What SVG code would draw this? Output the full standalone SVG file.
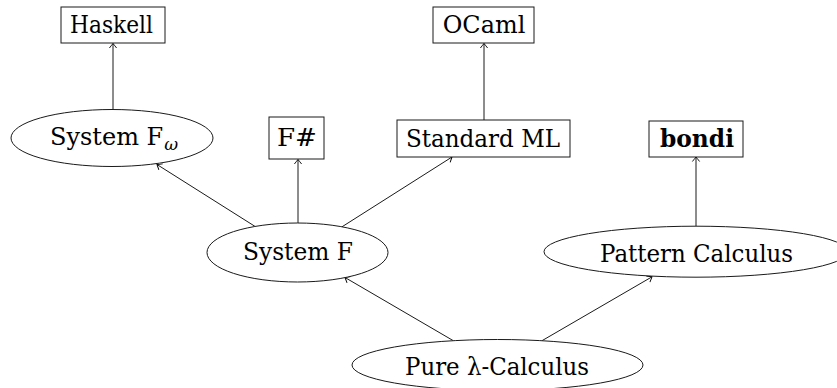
<svg xmlns="http://www.w3.org/2000/svg" width="837" height="388" viewBox="0 0 837 388">
<style>
.lbl{font-family:'DejaVu Serif','Liberation Serif',serif;font-size:24px;fill:#000}
.shape{fill:#fff;stroke:#1a1a1a;stroke-width:1}
.edge{stroke:#1a1a1a;stroke-width:1;fill:none;marker-end:url(#arr)}
</style>
<defs>
<marker id="arr" markerUnits="userSpaceOnUse" viewBox="-6 -5 8 10" refX="0" refY="0" markerWidth="8" markerHeight="10" orient="auto">
<path d="M-4.5,-3.6 Q-1.2,-1 0,0 Q-1.2,1 -4.5,3.6" fill="none" stroke="#000" stroke-width="0.9"/>
</marker>
</defs>
<rect width="837" height="388" fill="#fff"/>
<g id="connectors">
<line class="edge" x1="113" y1="109.5" x2="113" y2="43.5"/>
<line class="edge" x1="255" y1="226.4" x2="157" y2="164.5"/>
<line class="edge" x1="298" y1="223" x2="298" y2="159.5"/>
<line class="edge" x1="342" y1="226.8" x2="452" y2="157"/>
<line class="edge" x1="484" y1="120" x2="484" y2="43.5"/>
<line class="edge" x1="453" y1="340.5" x2="345" y2="277.5"/>
<line class="edge" x1="542" y1="340.7" x2="652" y2="276.8"/>
<line class="edge" x1="696" y1="226" x2="696" y2="157"/>
</g>
<g id="haskell">
<rect class="shape" x="61" y="7" width="104" height="36"/>
<text class="lbl" x="70" y="33" textLength="83" lengthAdjust="spacingAndGlyphs">Haskell</text>
</g>
<g id="ocaml">
<rect class="shape" x="433" y="7" width="101" height="36"/>
<text class="lbl" x="442.7" y="33" textLength="82.6" lengthAdjust="spacingAndGlyphs">OCaml</text>
</g>
<g id="systemfomega">
<ellipse class="shape" cx="112" cy="138" rx="101" ry="28.5"/>
<text class="lbl" x="50" y="145" font-size="23">System F<tspan dx="1" dy="5" font-size="17" font-style="italic">ω</tspan></text>
</g>
<g id="fsharp">
<rect class="shape" x="269" y="117" width="55" height="42"/>
<text class="lbl" x="277" y="146" textLength="40" lengthAdjust="spacingAndGlyphs">F#</text>
</g>
<g id="standardml">
<rect class="shape" x="397" y="120" width="173" height="37"/>
<text class="lbl" x="406" y="146.5" textLength="154" lengthAdjust="spacingAndGlyphs">Standard ML</text>
</g>
<g id="bondi">
<rect class="shape" x="649" y="121" width="94" height="36"/>
<text class="lbl" x="660" y="147" font-weight="bold" textLength="74" lengthAdjust="spacingAndGlyphs">bondi</text>
</g>
<g id="systemf">
<ellipse class="shape" cx="297.5" cy="252.5" rx="90.5" ry="29.5"/>
<text class="lbl" x="243" y="260" textLength="110" lengthAdjust="spacingAndGlyphs">System F</text>
</g>
<g id="patterncalculus">
<ellipse class="shape" cx="696" cy="251.7" rx="152" ry="25.5"/>
<text class="lbl" x="600" y="261.5" textLength="193" lengthAdjust="spacingAndGlyphs">Pattern Calculus</text>
</g>
<g id="purelambda">
<ellipse class="shape" cx="497.5" cy="365" rx="145.5" ry="25.5"/>
<text class="lbl" x="405" y="375" textLength="184" lengthAdjust="spacingAndGlyphs">Pure λ-Calculus</text>
</g>
</svg>
